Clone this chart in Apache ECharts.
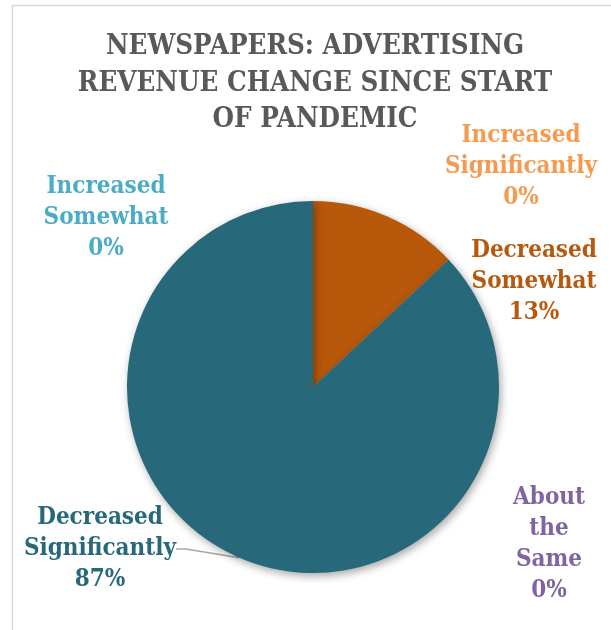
<!DOCTYPE html>
<html><head><meta charset="utf-8">
<script src="https://cdn.jsdelivr.net/npm/echarts@6/dist/echarts.min.js"></script>
<style>html,body{margin:0;padding:0;background:#fff}#c{width:611px;height:630px}</style>
</head><body><div id="c"></div>
<script>
var categories = ['Decreased Somewhat', 'Decreased Significantly', 'About the Same', 'Increased Somewhat', 'Increased Significantly'];
var labelNames = ['Decreased\nSomewhat', 'Decreased\nSignificantly', 'About\nthe\nSame', 'Increased\nSomewhat', 'Increased\nSignificantly'];
var values = [13, 87, 0, 0, 0];
var sliceColors = ['#B7580B', '#27687A', '#8064A2', '#4BACC6', '#F79646'];
var labelColors = ['#B5590F', '#27687A', '#8064A2', '#4BACC6', '#F59A4F'];
var labelPos = [[534, 282], [100, 549], [549, 544], [106, 218], [521, 167]];

var FONT = "'DejaVu Serif Condensed', 'Liberation Serif', serif";
var chart = echarts.init(document.getElementById('c'), null, {renderer: 'canvas'});
var data = categories.map(function (c, i) {
  return {
    name: c, value: values[i],
    itemStyle: {color: sliceColors[i]},
    label: {color: labelColors[i]},
    labelLine: {show: i === 1}
  };
});
chart.setOption({
  animation: false,
  graphic: [{type: 'rect', shape: {x: 12.5, y: 5.5, width: 620, height: 640}, style: {fill: 'none', stroke: '#D9D9D9', lineWidth: 1.5}, z: -1}],
  title: {
    text: 'NEWSPAPERS: ADVERTISING\nREVENUE CHANGE SINCE START\nOF PANDEMIC',
    left: 310, top: 24, textAlign: 'center',
    textStyle: {fontFamily: FONT, fontWeight: 'bold', fontSize: 27.5, lineHeight: 36.5, color: '#595959'}
  },
  series: [{
    type: 'pie',
    center: [313, 387], radius: 186,
    startAngle: 90, clockwise: true,
    stillShowZeroSum: true,
    itemStyle: {shadowBlur: 8, shadowColor: 'rgba(0,0,0,0.35)', shadowOffsetX: 2, shadowOffsetY: 3},
    emphasis: {disabled: true},
    label: {
      show: true, position: 'outside', overflow: 'none',
      fontFamily: FONT, fontWeight: 'bold', fontSize: 24, lineHeight: 31, align: 'center',
      formatter: function (p) { return labelNames[p.dataIndex] + '\n' + Math.round(p.percent) + '%'; }
    },
    labelLine: {lineStyle: {color: '#A6A6A6', width: 1.5}, length: 10, length2: 10},
    labelLayout: function (p) {
      var q = labelPos[p.dataIndex];
      return {x: q[0], y: q[1], align: 'center', verticalAlign: 'middle', hideOverlap: false};
    },
    data: data
  }]
});
</script></body></html>
